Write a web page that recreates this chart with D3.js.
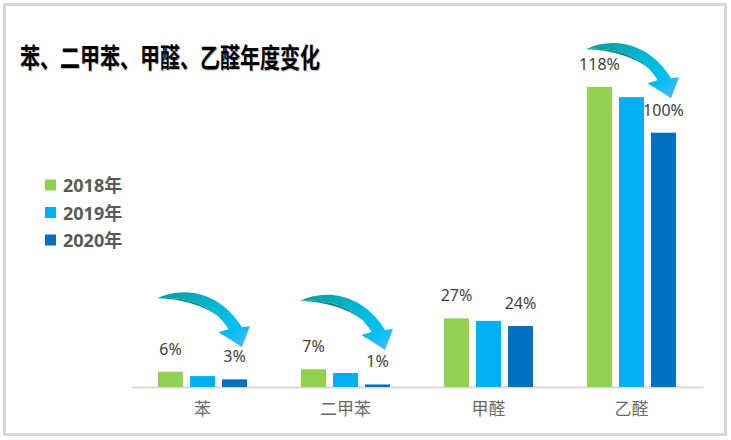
<!DOCTYPE html>
<html>
<head>
<meta charset="utf-8">
<script src="https://cdn.jsdelivr.net/npm/d3@7"></script>
<style>
  body { margin: 0; background: #fff; }
  svg { display: block; }
</style>
</head>
<body>
<div id="chart"></div>
<script>
// data
const categories = ["苯", "二甲苯", "甲醛", "乙醛"];
const years = ["2018年", "2019年", "2020年"];
const values2018 = [6, 7, 27, 118];
const values2019 = [4.3, 5.5, 26, 114];
const values2020 = [3, 1, 24, 100];
const colors = ["#92d050", "#00b0f0", "#0070c0"];
// height (in % units) where each decorative arrow sits; null = no arrow
const arrowLevels = [38, 37, null, 136];

const series = [values2018, values2019, values2020];

const width = 731, height = 440;
const svg = d3.select("#chart").append("svg")
  .attr("width", width)
  .attr("height", height);

// frame
svg.append("rect")
  .attr("x", 4.5).attr("y", 4.5)
  .attr("width", 721).attr("height", 430)
  .attr("fill", "#fff")
  .attr("stroke", "#d9d9d9")
  .attr("stroke-width", 3);

// title
svg.append("text")
  .attr("x", 20).attr("y", 68)
  .attr("textLength", 300)
  .attr("lengthAdjust", "spacingAndGlyphs")
  .style("font-family", "'Noto Sans CJK SC', sans-serif")
  .style("font-weight", "bold")
  .style("font-size", "27px")
  .style("fill", "#000")
  .style("text-shadow", "1px 1px 1px #bbb")
  .text("苯、二甲苯、甲醛、乙醛年度变化");

const x = d3.scaleBand().domain(categories).range([131, 703]);
const xInner = d3.scaleBand().domain(years).range([0, x.bandwidth()])
  .paddingInner(0.21875).paddingOuter(0.84375);
const y = d3.scaleLinear().domain([0, 140]).range([387, 31]);

// axis
const axis = svg.append("g")
  .attr("transform", `translate(0,${y(0)})`)
  .call(d3.axisBottom(x).tickSize(0).tickSizeOuter(0));
axis.select(".domain").attr("stroke", "#d9d9d9").attr("stroke-width", 2);
axis.selectAll("text")
  .attr("y", 28)
  .attr("dy", 0)
  .style("font-family", "'Noto Sans CJK SC', sans-serif")
  .style("font-size", "17px")
  .style("fill", "#6a6a6a");

// bars
const groups = svg.append("g").selectAll("g")
  .data(categories)
  .join("g")
  .attr("transform", d => `translate(${x(d)},0)`);

groups.selectAll("rect")
  .data((d, i) => years.map((yr, j) => ({ yr, j, v: series[j][i] })))
  .join("rect")
  .attr("x", d => xInner(d.yr))
  .attr("width", xInner.bandwidth())
  .attr("y", d => y(d.v))
  .attr("height", d => y(0) - y(d.v))
  .attr("fill", d => colors[d.j]);

// labels for 2018 and 2020 only
groups.selectAll("text.val")
  .data((d, i) => [
    { yr: years[0], v: values2018[i] },
    { yr: years[2], v: values2020[i] }
  ])
  .join("text")
  .attr("class", "val")
  .attr("x", d => xInner(d.yr) + xInner.bandwidth() / 2)
  .attr("y", d => y(d.v) - 17)
  .attr("text-anchor", "middle")
  .style("font-family", "'Noto Sans', sans-serif")
  .style("font-size", "16px")
  .style("fill", "#404040")
  .text(d => d.v + "%");

// decorative curved arrows
const defs = svg.append("defs");
const grad = defs.append("linearGradient")
  .attr("id", "arrowGrad")
  .attr("x1", "0%").attr("y1", "0%").attr("x2", "100%").attr("y2", "100%");
grad.append("stop").attr("offset", "0%").attr("stop-color", "#0a9e96");
grad.append("stop").attr("offset", "45%").attr("stop-color", "#00b7d6");
grad.append("stop").attr("offset", "75%").attr("stop-color", "#00c0f0");
grad.append("stop").attr("offset", "100%").attr("stop-color", "#5ab4ff");

const arrowPath = "M0,8 C25,-4 62,0 85,37 L93,36 L85,57 L62,42 L72,39 C58,16 32,5 0,8 Z";
const sidePath = "M0,8 C32,5 58,16 72,39 L62,42 L66,45 L76,42 C62,20 34,9 0,8 Z";

const arrows = svg.append("g").selectAll("g")
  .data(categories.map((c, i) => ({ c, lvl: arrowLevels[i] })).filter(d => d.lvl != null))
  .join("g")
  .attr("transform", d => `translate(${x(d.c) + xInner(years[0]) - 1},${y(d.lvl)})`);

arrows.append("path").attr("d", sidePath).attr("fill", "#0b8c8f");
arrows.append("path").attr("d", arrowPath).attr("fill", "url(#arrowGrad)");

// legend
const legend = svg.append("g").selectAll("g")
  .data(years)
  .join("g")
  .attr("transform", (d, i) => `translate(45,${185 + i * 27.5})`);
legend.append("rect")
  .attr("x", 0).attr("y", -5.5)
  .attr("width", 11).attr("height", 11)
  .attr("fill", (d, i) => colors[i]);
legend.append("text")
  .attr("x", 18).attr("y", 7)
  .style("font-family", "'Noto Sans', 'Noto Sans CJK SC', sans-serif")
  .style("font-weight", "bold")
  .style("font-size", "18px")
  .style("fill", "#595959")
  .text(d => d);
</script>
</body>
</html>
